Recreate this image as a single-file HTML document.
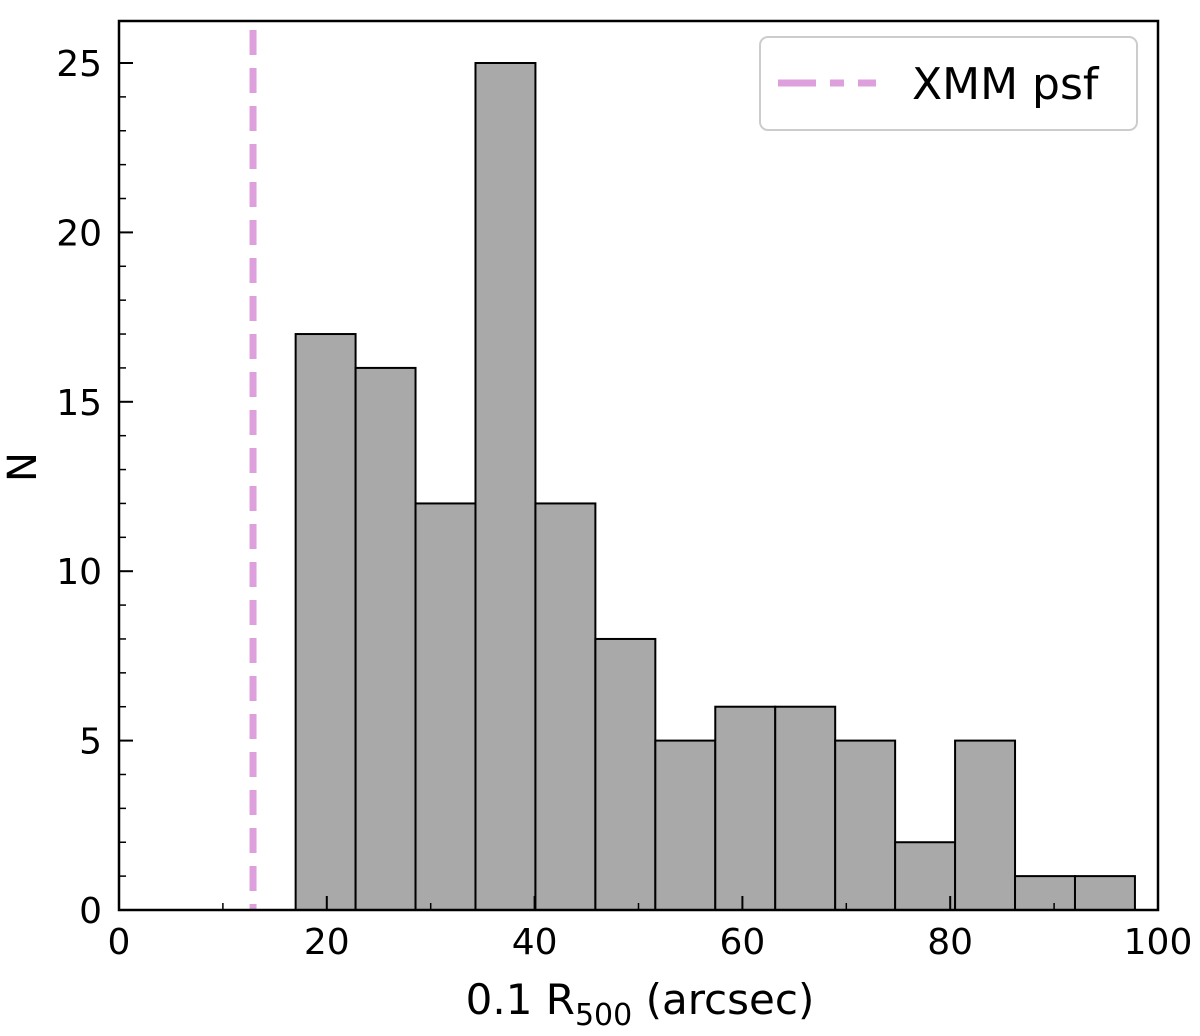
<!DOCTYPE html>
<html><head><meta charset="utf-8"><style>
body{margin:0;background:#fff}
svg{display:block;font-family:"DejaVu Sans","Liberation Sans",sans-serif}
</style></head><body>
<svg id="chart" width="1200" height="1036" xmlns="http://www.w3.org/2000/svg">
<g id="bars"></g>
<g id="psf"></g>
<rect x="119" y="21" width="1039" height="889" fill="none" stroke="#000" stroke-width="2.5"/>
<g id="ticks"></g>
<text x="640" y="1014" font-size="42" text-anchor="middle">0.1 R<tspan font-size="30" dy="11">500</tspan><tspan dy="-11"> (arcsec)</tspan></text>
<text transform="translate(36,467) rotate(-90)" font-size="40" text-anchor="middle">N</text>
<g>
<rect x="760" y="37" width="377" height="93" rx="8" fill="#fff" stroke="#ccc" stroke-width="2"/>
<line x1="778" y1="83" x2="876" y2="83" stroke="#dda0dd" stroke-width="7" stroke-dasharray="38,14,14,14"/>
<text x="912" y="99" font-size="44">XMM psf</text>
</g>
</svg>
<script>
const binStart = 17.0;
const binWidth = 5.77;
const counts = [17,16,12,25,12,8,5,6,6,5,2,5,1,1];
const psfValue = 12.9;
const xTicks = [0,20,40,60,80,100];
const yTicks = [0,5,10,15,20,25];
const X0=119,X1=1158,Y0=910,Y25=63;
const sx=v=>X0+(X1-X0)*v/100;
const sy=v=>Y0-(Y0-Y25)*v/25;
const NS="http://www.w3.org/2000/svg";
function mk(t,a,p){const e=document.createElementNS(NS,t);for(const k in a)e.setAttribute(k,a[k]);p.appendChild(e);return e;}
const bars=document.getElementById('bars');
counts.forEach((c,i)=>{const x=sx(binStart+i*binWidth),x2=sx(binStart+(i+1)*binWidth);
const r=mk('rect',{x:x,y:sy(c),width:x2-x,height:Y0-sy(c),fill:'#a9a9a9',stroke:'#000','stroke-width':2},bars);

});
const psf=document.getElementById('psf');
mk('line',{x1:sx(psfValue),x2:sx(psfValue),y1:30,y2:910,stroke:'#dda0dd','stroke-width':7,'stroke-dasharray':'25,13'},psf);
const tk=document.getElementById('ticks');
xTicks.forEach(v=>{mk('line',{x1:sx(v),x2:sx(v),y1:Y0,y2:Y0-14,stroke:'#000','stroke-width':2},tk);
const t=mk('text',{x:sx(v),y:954,'font-size':36,'text-anchor':'middle'},tk);t.textContent=v;

});
for(let v=10;v<100;v+=20)mk('line',{x1:sx(v),x2:sx(v),y1:Y0,y2:Y0-7,stroke:'#000','stroke-width':1.5},tk);
yTicks.forEach(v=>{mk('line',{x1:X0,x2:X0+14,y1:sy(v),y2:sy(v),stroke:'#000','stroke-width':2},tk);
const t=mk('text',{x:102,y:sy(v)+13,'font-size':36,'text-anchor':'end'},tk);t.textContent=v;

});
for(let v=1;v<26;v++)if(v%5)mk('line',{x1:X0,x2:X0+7,y1:sy(v),y2:sy(v),stroke:'#000','stroke-width':1.5},tk);
</script>
</body></html>
